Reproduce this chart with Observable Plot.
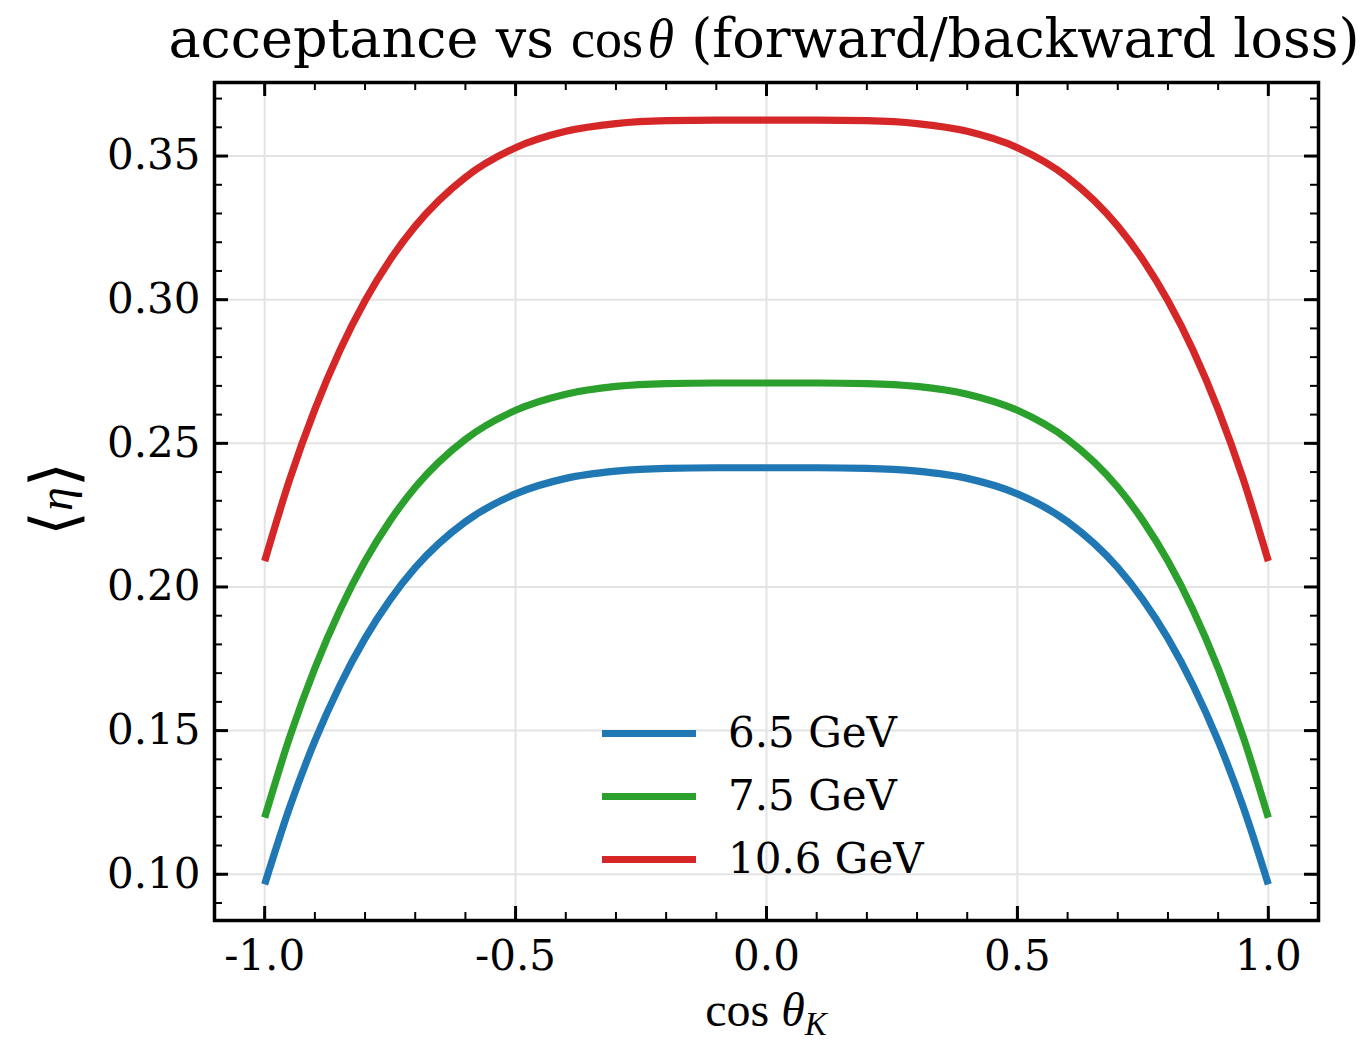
<!DOCTYPE html>
<html>
<head>
<meta charset="utf-8">
<script src="https://cdn.jsdelivr.net/npm/d3@7"></script>
<script src="https://cdn.jsdelivr.net/npm/@observablehq/plot@0.6"></script>
<style>
  body { margin: 0; background: #fff; }
  #wrap { position: relative; width: 1367px; height: 1042px; overflow: hidden; background: #fff; }
  #title { position: absolute; left: 764px; top: 4px; transform: translateX(-50%); white-space: nowrap;
           font-family: "DejaVu Serif"; font-size: 54px; line-height: 70px; color: #000; }
  #title .m { font-family: "Liberation Serif"; }
  #chart { position: absolute; left: 0; top: 76px; }
  .lrow { position: absolute; left: 602px; height: 62px; line-height: 62px; display: flex; align-items: center;
          font-family: "DejaVu Serif"; font-size: 42px; color: #000; white-space: nowrap; }
  .lrow .sw { width: 94px; height: 7px; margin-right: 32px; }
</style>
</head>
<body>
<div id="wrap">
  <div id="title">acceptance vs <span class="m">cos</span><span class="m" style="font-style:italic">&#8202;θ</span> (forward/backward loss)</div>
  <div id="chart"></div>
  <div id="legend"></div>
</div>
<script>
// ---- data ----
const cosTheta = [-1.0, -0.95, -0.9, -0.85, -0.8, -0.75, -0.7, -0.6, -0.5, -0.4, -0.3, -0.2, -0.1, 0.0,
                   0.1, 0.2, 0.3, 0.4, 0.5, 0.6, 0.7, 0.75, 0.8, 0.85, 0.9, 0.95, 1.0];
const eta65 = [0.0965, 0.1234, 0.1464, 0.1658, 0.1821, 0.1956, 0.2067, 0.2227, 0.2324, 0.2378, 0.2403, 0.2413, 0.2415, 0.2415,
               0.2415, 0.2413, 0.2403, 0.2378, 0.2324, 0.2227, 0.2067, 0.1956, 0.1821, 0.1658, 0.1464, 0.1234, 0.0965];
const eta75 = [0.1197, 0.1478, 0.1717, 0.1920, 0.2090, 0.2231, 0.2347, 0.2514, 0.2615, 0.2671, 0.2698, 0.2708, 0.2710, 0.2710,
               0.2710, 0.2708, 0.2698, 0.2671, 0.2615, 0.2514, 0.2347, 0.2231, 0.2090, 0.1920, 0.1717, 0.1478, 0.1197];
const eta106 = [0.2090, 0.2375, 0.2618, 0.2824, 0.2996, 0.3139, 0.3256, 0.3426, 0.3529, 0.3586, 0.3613, 0.3623, 0.3625, 0.3625,
                0.3625, 0.3623, 0.3613, 0.3586, 0.3529, 0.3426, 0.3256, 0.3139, 0.2996, 0.2824, 0.2618, 0.2375, 0.2090];
const seriesLabels = ["6.5 GeV", "7.5 GeV", "10.6 GeV"];
const seriesColors = ["#1f77b4", "#2ca02c", "#d62728"];
const xTicks = [-1.0, -0.5, 0.0, 0.5, 1.0];
const xMinorTicks = [-1.0, -0.9, -0.8, -0.7, -0.6, -0.5, -0.4, -0.3, -0.2, -0.1, 0.0, 0.1, 0.2, 0.3, 0.4, 0.5, 0.6, 0.7, 0.8, 0.9, 1.0];
const yTicks = [0.10, 0.15, 0.20, 0.25, 0.30, 0.35];
const yMinorTicks = [0.09, 0.10, 0.11, 0.12, 0.13, 0.14, 0.15, 0.16, 0.17, 0.18, 0.19, 0.20, 0.21, 0.22, 0.23, 0.24,
                     0.25, 0.26, 0.27, 0.28, 0.29, 0.30, 0.31, 0.32, 0.33, 0.34, 0.35, 0.36, 0.37];

const seriesValues = [eta65, eta75, eta106];
const rows = seriesValues.flatMap((vals, i) => vals.map((v, j) => ({x: cosTheta[j], y: v, series: seriesLabels[i]})));

// ---- layout ----
const W = 1367, H = 966;
const mL = 214, mR = 49, mT = 6, mB = 122;
const fw = W - mL - mR, fh = H - mT - mB;
const majLen = 14, minLen = 8;

const chart = Plot.plot({
  width: W, height: H,
  marginLeft: mL, marginRight: mR, marginTop: mT, marginBottom: mB,
  style: {fontFamily: "DejaVu Serif", fontSize: "42px", color: "#000", background: "#fff"},
  x: {domain: [-1.1, 1.1]},
  y: {domain: [0.0839, 0.3756]},
  color: {domain: seriesLabels, range: seriesColors},
  marks: [
    Plot.ruleX(xTicks, {stroke: "#e3e3e3", strokeWidth: 2}),
    Plot.ruleY(yTicks, {stroke: "#e3e3e3", strokeWidth: 2}),
    Plot.line(rows, {x: "x", y: "y", z: "series", stroke: "series", strokeWidth: 7.2,
                     curve: "monotone-x", strokeLinecap: "butt", strokeLinejoin: "round"}),
    // inward minor ticks
    Plot.ruleX(xMinorTicks, {insetTop: fh - minLen, stroke: "#000", strokeWidth: 2}),
    Plot.ruleX(xMinorTicks, {insetBottom: fh - minLen, stroke: "#000", strokeWidth: 2}),
    Plot.ruleY(yMinorTicks, {insetRight: fw - minLen, stroke: "#000", strokeWidth: 2}),
    Plot.ruleY(yMinorTicks, {insetLeft: fw - minLen, stroke: "#000", strokeWidth: 2}),
    // inward major ticks
    Plot.ruleX(xTicks, {insetTop: fh - majLen, stroke: "#000", strokeWidth: 3}),
    Plot.ruleX(xTicks, {insetBottom: fh - majLen, stroke: "#000", strokeWidth: 3}),
    Plot.ruleY(yTicks, {insetRight: fw - majLen, stroke: "#000", strokeWidth: 3}),
    Plot.ruleY(yTicks, {insetLeft: fw - majLen, stroke: "#000", strokeWidth: 3}),
    Plot.frame({stroke: "#000", strokeWidth: 3.5}),
    Plot.axisX(xTicks, {tickSize: 0, tickPadding: 20, tickFormat: d => d.toFixed(1), label: null}),
    Plot.axisY(yTicks, {tickSize: 0, tickPadding: 14, tickFormat: d => d.toFixed(2), label: null})
  ]
});
document.getElementById("chart").appendChild(chart);

// axis titles (math-style text)
const svg = d3.select(chart);
const xl = svg.append("text")
  .attr("x", mL + fw / 2).attr("y", 950)
  .attr("text-anchor", "middle")
  .style("font-family", "Liberation Serif").style("font-size", "48px").attr("fill", "#000");
xl.append("tspan").text("cos ");
xl.append("tspan").style("font-style", "italic").text("θ");
xl.append("tspan").style("font-style", "italic").style("font-size", "33px").attr("dy", 9).text("K");

const yl = svg.append("text")
  .attr("transform", `translate(72, ${mT + fh / 2 - 2}) rotate(-90)`)
  .attr("text-anchor", "middle")
  .style("font-family", "Liberation Serif").style("font-size", "48px").attr("fill", "#000");
yl.append("tspan").style("font-size", "64px").attr("dy", 4).text("⟨");
yl.append("tspan").style("font-style", "italic").attr("dy", -4).text("η");
yl.append("tspan").style("font-size", "64px").attr("dy", 4).text("⟩");

// legend
const legendCenters = [733, 796, 859];
const legend = document.getElementById("legend");
seriesLabels.forEach((lab, i) => {
  const row = document.createElement("div");
  row.className = "lrow";
  row.style.top = (legendCenters[i] - 31) + "px";
  const sw = document.createElement("div");
  sw.className = "sw";
  sw.style.background = seriesColors[i];
  const t = document.createElement("span");
  t.textContent = lab;
  row.appendChild(sw); row.appendChild(t);
  legend.appendChild(row);
});
</script>
</body>
</html>
